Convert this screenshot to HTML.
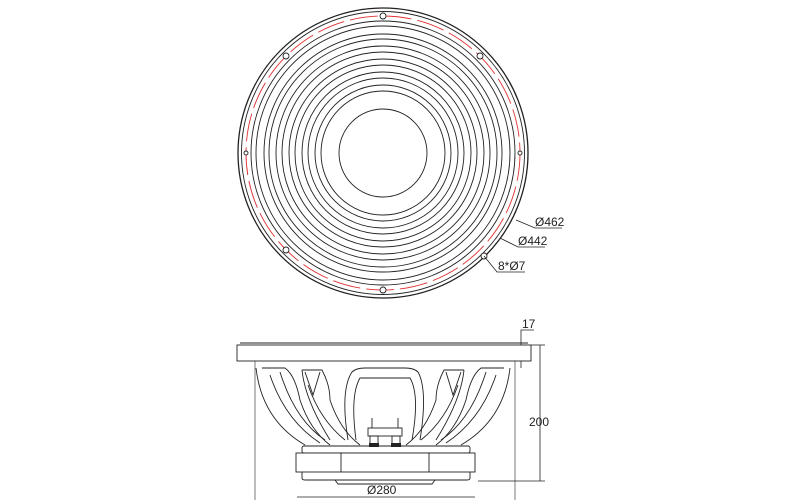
<!DOCTYPE html>
<html><head><meta charset="utf-8"><style>
html,body{margin:0;padding:0;background:#fff;}
svg{display:block;}
text{font-family:"Liberation Sans",sans-serif;font-size:12px;fill:#222;}
</style></head><body>
<svg width="800" height="500" viewBox="0 0 800 500" xmlns="http://www.w3.org/2000/svg">
<g fill="none" stroke="#222" stroke-width="0.9">
 <circle cx="383" cy="153" r="145" stroke-width="1.3"/>
 <circle cx="383" cy="153" r="141.5"/>
 <circle cx="383" cy="153" r="132"/>
 <circle cx="383" cy="153" r="127"/>
 <circle cx="383" cy="153" r="119"/>
 <circle cx="383" cy="153" r="114"/>
 <circle cx="383" cy="153" r="107"/>
 <circle cx="383" cy="153" r="101"/>
 <circle cx="383" cy="153" r="94"/>
 <circle cx="383" cy="153" r="88"/>
 <circle cx="383" cy="153" r="81"/>
 <circle cx="383" cy="153" r="75"/>
 <circle cx="383" cy="153" r="68"/>
 <circle cx="383" cy="153" r="62"/>
 <circle cx="383" cy="153" r="44"/>
</g>
<circle cx="383" cy="153" r="137" fill="none" stroke="#e03030" stroke-width="0.9" stroke-dasharray="28 6"/>
<g fill="#fff" stroke="#222" stroke-width="0.9">
 <circle cx="383" cy="16" r="3"/>
 <circle cx="383" cy="290" r="3"/>
 <circle cx="286" cy="56" r="3"/>
 <circle cx="480" cy="56" r="3"/>
 <circle cx="286" cy="250" r="3"/>
 <circle cx="484" cy="256" r="3"/>
 <circle cx="246" cy="153" r="2"/>
 <circle cx="520" cy="153" r="2"/>
</g>
<g stroke="#222" stroke-width="0.8" fill="none">
 <polyline points="516,220 535,228 562,228"/>
 <polyline points="500,238 518,247 545,247"/>
 <polyline points="484,256 497,272 525,272"/>
</g>
<text x="535" y="226">Ø462</text>
<text x="518" y="245">Ø442</text>
<text x="498" y="270">8*Ø7</text>

<g fill="none" stroke="#222" stroke-width="0.9">
 <rect x="237" y="345" width="294" height="16" fill="#fff"/>
 <line x1="240" y1="343" x2="528" y2="343"/>
 <line x1="255" y1="361" x2="255" y2="500" stroke-width="0.6"/>
 <line x1="515" y1="361" x2="515" y2="500" stroke-width="0.6"/>
 <path d="M256,368 Q262,420 305,445"/>
 <path d="M262,368 L285,368 Q295,375 300,400 Q310,430 330,445"/>
 <path d="M270,375 Q285,420 320,443"/>
 <path d="M280,372 Q295,420 325,440"/>
 <path d="M302,370 L322,370 Q330,385 330,400 Q340,430 360,445"/>
 <path d="M302,370 Q305,400 330,440"/>
 <path d="M305,372 L313,395 L320,372"/>
 <path d="M308,385 Q320,420 345,440"/>
 <path d="M510,368 Q504,420 461,445"/>
 <path d="M504,368 L481,368 Q471,375 466,400 Q456,430 436,445"/>
 <path d="M496,375 Q481,420 446,443"/>
 <path d="M486,372 Q471,420 441,440"/>
 <path d="M464,370 L444,370 Q436,385 436,400 Q426,430 406,445"/>
 <path d="M464,370 Q461,400 436,440"/>
 <path d="M461,372 L453,395 L446,372"/>
 <path d="M458,385 Q446,420 421,440"/>
 <path d="M348,440 Q340,390 352,372 Q356,368 365,368 L405,368 Q414,368 418,372 Q428,390 420,440"/>
 <path d="M356,440 Q350,395 360,378 L410,378 Q420,395 412,440"/>
 <rect x="368" y="428" width="34" height="8"/>
 <line x1="372" y1="418" x2="372" y2="428"/><line x1="398" y1="418" x2="398" y2="428"/>
 <rect x="370" y="436" width="8" height="10"/><rect x="392" y="436" width="8" height="10"/>
 <rect x="302" y="446" width="168" height="7" rx="2"/>
 <rect x="296" y="453" width="179" height="19" fill="#fff"/>
 <line x1="341" y1="453" x2="341" y2="472"/><line x1="429" y1="453" x2="429" y2="472"/>
 <path d="M302,472 L302,478 Q302,480 305,480 L467,480 Q470,480 470,478 L470,472"/>
 <path d="M335,480 L338,484 L432,484 L435,480"/>
</g>
<rect x="369" y="443" width="10" height="4" fill="#222"/>
<rect x="391" y="443" width="10" height="4" fill="#222"/>
<g stroke="#222" stroke-width="0.8" fill="none">
 <line x1="531" y1="345" x2="545" y2="345"/>
 <line x1="478" y1="481" x2="545" y2="481"/>
 <line x1="540" y1="345" x2="540" y2="481"/>
 <line x1="297" y1="497" x2="475" y2="497"/>
 <polyline points="521,345 521,330 534,330"/>
 <line x1="521" y1="361" x2="521" y2="368"/>
</g>
<text x="529" y="426">200</text>
<text x="522" y="328">17</text>
<text x="367" y="494">Ø280</text>
</svg>
</body></html>
